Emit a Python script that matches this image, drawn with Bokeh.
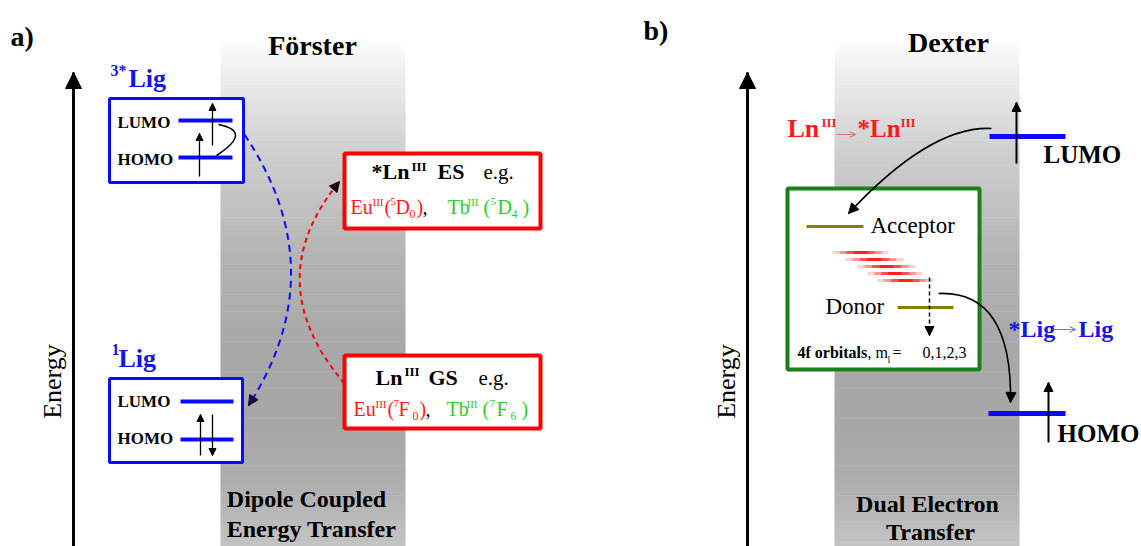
import numpy as np
from bokeh.plotting import figure
from bokeh.models import Range1d, Arrow, NormalHead, OpenHead
from bokeh.core.properties import value
from bokeh.embed import file_html
from bokeh.resources import INLINE

# ---------------- content ----------------
panel_labels = ["a)", "b)"]
method_titles = ["Förster", "Dexter"]
band_captions = [["Dipole Coupled", "Energy Transfer"], ["Dual Electron", "Transfer"]]
axis_label = "Energy"
level_labels = ["LUMO", "HOMO"]
ligand_labels = [("3*", "Lig"), ("1", "Lig")]
ln_states = [("*Ln", "III", "ES"), ("Ln", "III", "GS")]
eg_text = "e.g."
eu_terms = [("5", "D", "0"), ("7", "F", "0")]
tb_terms = [("5", "D", "4"), ("7", "F", "6")]
dexter_levels = ["Acceptor", "Donor"]
orbital_note = ("4f orbitals", ", m", "l", "=", "0,1,2,3")
red_fuzzy_count = 5

# gradient of the shaded bands (y in px, grey level)
grad_y = [37, 70, 150, 250, 330, 420, 480, 546]
grad_v = [255, 240, 208, 182, 170, 167, 174, 196]

BLUE = "#0a0aff"
BLUE_T = "#1515e6"
RED = "#ff0000"
RED_T = "#ff1a1a"
GREEN_T = "#2ccc2c"
DGREEN = "#178017"
OLIVE = "#858000"
FONT = "Liberation Serif"
BASE_SHIFT = 0.35  # correction of the alphabetic baseline, in em

p = figure(width=1141, height=546, x_range=Range1d(0, 1141), y_range=Range1d(546, 0),
           output_backend="svg", toolbar_location=None, x_axis_type=None, y_axis_type=None,
           min_border=0, min_border_left=0, min_border_right=0, min_border_top=0,
           min_border_bottom=0, background_fill_color="white", border_fill_color="white")
p.outline_line_color = None
p.grid.visible = False


def T(x, y, s, size, color="black", bold=False, align="left", baseline="alphabetic", angle=0):
    if baseline == "alphabetic":
        y = y - BASE_SHIFT * size
    p.text(x=[x], y=[y], text=[s], text_font=value(FONT), text_font_size=value(f"{size}px"),
           text_font_style="bold" if bold else "normal", text_color=color,
           text_align=align, text_baseline=baseline, angle=angle)


def head(x, y, dx, dy, size=9, color="black", kind="normal", lw=1.0):
    n = (dx * dx + dy * dy) ** 0.5
    dx, dy = dx / n, dy / n
    if kind == "normal":
        h = NormalHead(size=size, fill_color=color, line_color=color, line_width=1)
    else:
        h = OpenHead(size=size, line_color=color, line_width=lw)
    p.add_layout(Arrow(end=h, x_start=x - dx * 3, y_start=y - dy * 3, x_end=x, y_end=y,
                       line_alpha=0))


def arrow(x0, y0, x1, y1, lw=1.5, size=8, color="black", dash="solid", kind="normal"):
    p.segment(x0=[x0], y0=[y0], x1=[x1], y1=[y1], line_color=color, line_width=lw, line_dash=dash)
    head(x1, y1, x1 - x0, y1 - y0, size=size, color=color, kind=kind, lw=lw)


# ---------------- shaded bands ----------------
ys = np.linspace(37, 546, 120)
for (l, r) in [(220, 405), (834, 1019)]:
    tops = ys[:-1]
    bots = ys[1:]
    mids = (tops + bots) / 2
    vals = np.interp(mids, grad_y, grad_v)
    cols = ["#%02x%02x%02x" % (int(v), int(v), int(v)) for v in vals]
    p.quad(left=[l] * len(tops), right=[r] * len(tops), top=list(tops), bottom=list(bots + 0.6),
           fill_color=cols, line_color=None)

# ---------------- titles ----------------
T(10, 46, panel_labels[0], 28, bold=True)
T(643, 40, panel_labels[1], 28, bold=True)
T(312, 55, method_titles[0], 28, bold=True, align="center")
T(948, 52, method_titles[1], 28, bold=True, align="center")
T(306, 507, band_captions[0][0], 24, bold=True, align="center")
T(311, 537, band_captions[0][1], 24, bold=True, align="center")
T(927, 512, band_captions[1][0], 24, bold=True, align="center")
T(930, 540, band_captions[1][1], 24, bold=True, align="center")

# ---------------- energy axes ----------------
for ax_x, lab_x in [(73, 52), (747, 726)]:
    arrow(ax_x, 546, ax_x, 72, lw=3, size=16)
    T(lab_x, 381, axis_label, 26, align="center", baseline="middle", angle=np.pi / 2)

# ---------------- panel a: ligand boxes ----------------
boxes = [(109, 243, 98, 182), (109, 242, 378, 462)]
p.quad(left=[b[0] for b in boxes], right=[b[1] for b in boxes],
       top=[b[2] for b in boxes], bottom=[b[3] for b in boxes],
       fill_color="white", line_color=BLUE, line_width=3)

# 3*Lig
T(110, 76, ligand_labels[0][0], 16, BLUE_T, bold=True)
T(128, 87, ligand_labels[0][1], 26, BLUE_T, bold=True)
T(117, 128, level_labels[0], 17, bold=True)
T(117, 165, level_labels[1], 17, bold=True)
p.segment(x0=[178, 178], y0=[120, 157], x1=[232, 232], y1=[120, 157], line_color=BLUE, line_width=4)
arrow(199, 176, 199, 133, lw=1.3, size=7)
arrow(212, 145, 212, 103, lw=1.3, size=7)
p.quadratic(x0=[218], y0=[124], x1=[216], y1=[155], cx=[253], cy=[131], line_color="black", line_width=1.5)

# 1Lig
T(111, 355, ligand_labels[1][0], 16, BLUE_T, bold=True)
T(118, 367, ligand_labels[1][1], 26, BLUE_T, bold=True)
T(117, 407, level_labels[0], 17, bold=True)
T(117, 444, level_labels[1], 17, bold=True)
p.segment(x0=[180, 180], y0=[401, 439], x1=[233, 233], y1=[401, 439], line_color=BLUE, line_width=4)
arrow(200, 455, 200, 414, lw=1.3, size=7)
arrow(212, 414, 212, 455, lw=1.3, size=7)

# ---------------- panel a: Ln boxes ----------------
ln_boxes = [(344, 540, 153, 228), (344, 540, 355, 428)]
p.quad(left=[b[0] for b in ln_boxes], right=[b[1] for b in ln_boxes],
       top=[b[2] for b in ln_boxes], bottom=[b[3] for b in ln_boxes],
       fill_color="white", line_color=RED, line_width=4)


def ion_line(y, x_eu, x_tb, terms_eu, terms_tb):
    # Eu part
    T(x_eu, y, "Eu", 20, RED_T)
    T(x_eu + 22, y - 8, "III", 11, RED_T)
    T(x_eu + 34, y, "(", 20, RED_T)
    T(x_eu + 40, y - 8, terms_eu[0], 11, RED_T)
    T(x_eu + 45, y, terms_eu[1], 20, RED_T)
    T(x_eu + 59, y + 5, terms_eu[2], 12, RED_T)
    T(x_eu + 66, y, ")", 20, RED_T)
    T(x_eu + 72, y, ",", 20, "black")
    # Tb part
    T(x_tb, y, "Tb", 20, GREEN_T)
    T(x_tb + 20, y - 8, "III", 11, GREEN_T)
    T(x_tb + 36, y, "(", 20, GREEN_T)
    T(x_tb + 43, y - 8, terms_tb[0], 11, GREEN_T)
    T(x_tb + 50, y, terms_tb[1], 20, GREEN_T)
    T(x_tb + 64, y + 5, terms_tb[2], 12, GREEN_T)
    T(x_tb + 75, y, ")", 20, GREEN_T)


# ES box
T(371, 179, ln_states[0][0], 22, bold=True)
T(411, 171, ln_states[0][1], 13, bold=True)
T(437, 179, ln_states[0][2], 22, bold=True)
T(483, 179, eg_text, 21)
ion_line(213, 350, 447, eu_terms[0], tb_terms[0])

# GS box
T(375, 385, ln_states[1][0], 22, bold=True)
T(404, 376, ln_states[1][1], 13, bold=True)
T(428, 385, ln_states[1][2], 22, bold=True)
T(478, 385, eg_text, 21)
ion_line(415, 353, 446, eu_terms[1], tb_terms[1])

# dashed transfer curves
p.quadratic(x0=[244], y0=[134], x1=[248], y1=[405], cx=[335], cy=[270],
            line_color=BLUE, line_width=2, line_dash="7 5")
head(248, 405, -87, 135, size=10, color="#101040")
p.quadratic(x0=[344], y0=[383], x1=[339], y1=[181], cx=[257], cy=[281],
            line_color=RED, line_width=2, line_dash="5 4")
head(339, 181, 82, -100, size=10, color="#200000")

# ---------------- panel b ----------------
T(787, 137, "Ln", 26, RED_T, bold=True)
T(821, 127, "III", 13, RED_T, bold=True)
arrow(836, 134, 855, 134, lw=1, size=6, color="#e07070", kind="open")
T(857, 137, "*Ln", 25, RED_T, bold=True)
T(900, 127, "III", 13, RED_T, bold=True)

# ligand levels
p.segment(x0=[989, 988], y0=[136, 413], x1=[1065, 1065], y1=[136, 413], line_color=BLUE, line_width=5)
arrow(1016, 163, 1016, 102, lw=2, size=9)
arrow(1048, 442, 1048, 382, lw=2, size=9)
T(1043, 163, level_labels[0], 25, bold=True)
T(1057, 442, level_labels[1], 25, bold=True)

# green 4f box
p.quad(left=[787], right=[979], top=[188], bottom=[369], fill_color="white",
       line_color=DGREEN, line_width=4)
p.segment(x0=[806, 897], y0=[226, 307], x1=[863, 953], y1=[226, 307], line_color=OLIVE, line_width=3)
T(870, 233, dexter_levels[0], 23)
T(825, 314, dexter_levels[1], 23)

fz_x0 = [832, 845, 857, 867, 877]
fz_x1 = [888, 903, 915, 922, 933]
fz_y = [252, 259, 266, 273, 280]
for i in range(red_fuzzy_count):
    a, b, y = fz_x0[i], fz_x1[i], fz_y[i]
    m, h = (a + b) / 2, (b - a) / 2
    for frac, alpha in [(1.0, 0.18), (0.75, 0.3), (0.5, 0.45), (0.25, 0.6)]:
        p.segment(x0=[m - h * frac], y0=[y], x1=[m + h * frac], y1=[y],
                  line_color=RED, line_width=3, line_alpha=alpha)

arrow(929, 277, 929, 335, lw=1.5, size=9, dash="4 3")

T(797, 358, orbital_note[0], 16, bold=True)
T(867, 358, orbital_note[1], 16)
T(887, 362, orbital_note[2], 10)
T(892, 358, orbital_note[3], 16)
T(922, 358, orbital_note[4], 16)

# Dexter exchange curves
p.quadratic(x0=[991], y0=[128], x1=[848], y1=[213], cx=[930], cy=[125], line_color="black", line_width=1.6)
head(848, 213, -82, 88, size=10)
p.quadratic(x0=[938], y0=[293], x1=[1010], y1=[402], cx=[1012], cy=[290], line_color="black", line_width=1.6)
head(1010, 402, -0.5, 10, size=10)

T(1008, 337, "*Lig", 24, BLUE_T, bold=True)
arrow(1053, 329, 1075, 329, lw=1, size=6, color="#7070e0", kind="open")
T(1078, 337, "Lig", 24, BLUE_T, bold=True)

open("out.html", "w").write(file_html(p, INLINE))
